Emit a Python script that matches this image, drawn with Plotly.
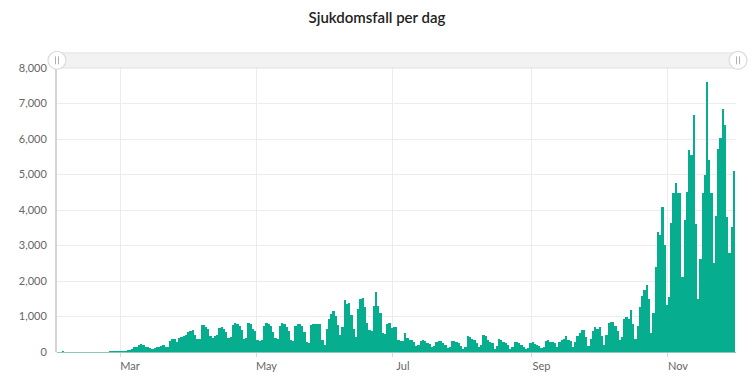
import pandas as pd
import plotly.graph_objects as go

# Daily reported cases (Sweden 2020)
cases_feb = [1, 0, 0, 0, 0, 0,
             0, 0, 0, 0, 0, 0, 0,
             0, 0, 0, 0, 0, 0, 0,
             0, 1, 1, 7, 2, 5]                      # Feb 4 - Feb 29
cases_mar = [4,
             10, 20, 35, 60, 95, 140, 150,
             200, 215, 210, 150, 140, 100, 90,
             100, 130, 150, 160, 200, 150, 140,
             320, 370, 380, 270, 400, 410, 460,
             480, 560]
cases_apr = [600, 620, 480, 360, 380,
             750, 760, 700, 650, 460, 400, 450,
             480, 690, 700, 650, 560, 400, 420,
             760, 820, 800, 720, 620, 380, 400,
             820, 800, 640, 600]
cases_may = [330, 300, 340,
             720, 820, 800, 740, 560, 400, 380,
             740, 830, 800, 700, 600, 330, 300,
             740, 800, 780, 740, 560, 290, 250,
             760, 800, 790, 790, 790, 340, 200]
cases_jun = [640, 920, 1060, 1160, 1020, 760, 480,
             710, 1460, 1350, 1370, 1040, 640, 430,
             1200, 1480, 1510, 1280, 810, 620, 600,
             1300, 1700, 1300, 1100, 530, 500, 790,
             810, 680]
cases_jul = [710, 710, 340, 310, 300,
             540, 400, 350, 330, 280, 170, 200,
             320, 330, 300, 250, 220, 140, 170,
             290, 320, 300, 260, 200, 115, 140,
             320, 310, 280, 250, 170]
cases_aug = [94, 150,
             460, 420, 370, 330, 260, 140, 200,
             470, 440, 330, 280, 240, 94, 180,
             360, 340, 290, 240, 200, 94, 150,
             280, 270, 240, 200, 150, 94, 120,
             260]
cases_sep = [270, 230, 190, 170, 110, 150,
             320, 330, 290, 270, 245, 130, 282,
             340, 375, 440, 340, 310, 130, 280,
             440, 535, 630, 630, 420, 170, 375,
             590, 700, 650]
cases_oct = [700, 440, 190, 470,
             810, 845, 845, 740, 600, 330, 420,
             940, 1000, 940, 1180, 790, 375, 740,
             1280, 1570, 1750, 1880, 1490, 530, 1100,
             2400, 3380, 3300, 4080, 3010, 1320]
cases_nov = [1550,
             3630, 4480, 4760, 4480, 4480, 2110, 3720,
             4500, 5700, 5560, 6670, 3600, 1500, 2620,
             4480, 5000, 7610, 5400, 4480, 2520, 3830,
             5730, 6030, 6840, 6400, 3800, 2780, 3530,
             5110]

month_series = [
    ("2020-02-04", cases_feb), ("2020-03-01", cases_mar), ("2020-04-01", cases_apr),
    ("2020-05-01", cases_may), ("2020-06-01", cases_jun), ("2020-07-01", cases_jul),
    ("2020-08-01", cases_aug), ("2020-09-01", cases_sep), ("2020-10-01", cases_oct),
    ("2020-11-01", cases_nov),
]

tick_dates = ["2020-03-01", "2020-05-01", "2020-07-01", "2020-09-01", "2020-11-01"]
tick_labels = ["Mar", "May", "Jul", "Sep", "Nov"]
y_ticks = [0, 1000, 2000, 3000, 4000, 5000, 6000, 7000, 8000]

dates, values = [], []
for start, vals in month_series:
    dates += list(pd.date_range(start, periods=len(vals), freq="D"))
    values += vals

BAR = "#06ad8f"
fig = go.Figure(go.Bar(
    x=dates, y=values,
    xperiod=86400000, xperiodalignment="middle",
    marker=dict(color=BAR, line=dict(width=0)),
    hovertemplate="%{x|%d %b}: %{y:,}<extra></extra>",
))

font_family = "Lato, 'Noto Sans', sans-serif"
fig.update_layout(
    width=748, height=385,
    margin=dict(l=57, r=12, t=68, b=33, autoexpand=False),
    paper_bgcolor="white", plot_bgcolor="white",
    bargap=0, showlegend=False,
    font=dict(family=font_family, size=11, color="#666666"),
    title=dict(text="Sjukdomsfall per dag", x=0.504, xanchor="center",
               y=0.953, yanchor="middle",
               font=dict(family=font_family, size=15, color="#222222", weight=600)),
)
fig.update_xaxes(
    type="date",
    range=["2020-02-01 20:00", "2020-12-01 10:00"],
    tickvals=tick_dates, ticktext=tick_labels,
    ticklabelshift=10,
    ticks="outside", ticklen=4, tickcolor="#d8d8d8",
    showgrid=True, gridcolor="#ececec", gridwidth=1,
    showline=False, zeroline=False, automargin=False,
    tickfont=dict(size=11, color="#666666"),
)
fig.update_yaxes(
    range=[0, 8000], tickvals=y_ticks, tickformat=",",
    showgrid=True, gridcolor="#ececec", gridwidth=1,
    zeroline=True, zerolinecolor="#8cc9bc", zerolinewidth=1,
    showline=True, linecolor="#d4d4d4", linewidth=2,
    ticks="", ticklabelstandoff=6, automargin=False,
    tickfont=dict(size=11, color="#666666"),
)

# Navigator bar decoration above the plot
fig.add_shape(type="rect", xref="paper", yref="paper",
              x0=0, x1=1, y0=1.0, y1=1.053,
              fillcolor="#f2f2f2", line=dict(color="#e2e2e2", width=1), layer="above")
for xa in (0, 1.003):
    fig.add_shape(type="circle", xref="paper", yref="paper",
                  xsizemode="pixel", ysizemode="pixel", xanchor=xa, yanchor=1.027,
                  x0=-9, x1=9, y0=-9, y1=9,
                  fillcolor="white", line=dict(color="#dcdcdc", width=1.2), layer="above")
    for dx in (-1.5, 1.5):
        fig.add_shape(type="line", xref="paper", yref="paper",
                      xsizemode="pixel", ysizemode="pixel", xanchor=xa, yanchor=1.027,
                      x0=dx, x1=dx, y0=-4, y1=4,
                      line=dict(color="#b0b0b0", width=1), layer="above")

fig.write_html("out.html",
               config={"displayModeBar": False},
               post_script="document.body.style.margin='0';document.body.style.overflow='hidden';")
